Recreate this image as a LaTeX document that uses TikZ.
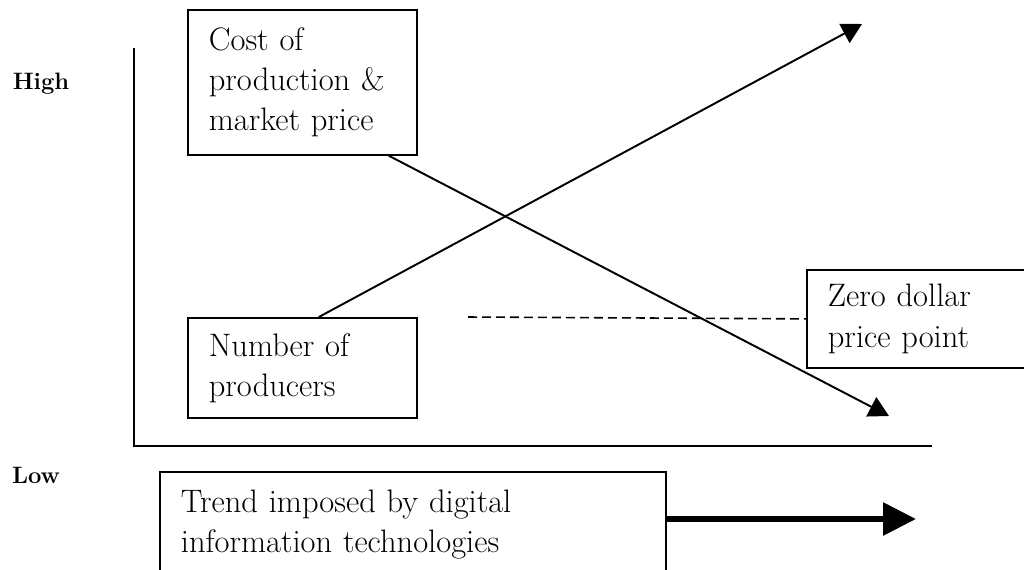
\documentclass[tikz,border=0pt]{standalone}
\usepackage{tikz}
\usetikzlibrary{arrows.meta,calc}
\tikzstyle{label box} = [draw, line width=1pt, rectangle, align=left, anchor=north west, inner xsep=0.42cm, inner ysep=0pt, font=\fontsize{18.5}{22.8}\selectfont]
\tikzstyle{axis label} = [font=\fontsize{13.5}{16}\selectfont\bfseries]
\tikzstyle{trend line} = [line width=1.1pt, -{Triangle[length=0.4cm, width=0.43cm]}]

\begin{document}
\begin{tikzpicture}[x=0.02cm, y=-0.02cm]
\useasboundingbox (0,0) rectangle (1024,569);
\draw[line width=1.2pt] (134,48) -- (134,446) -- (932,446);

	\node[axis label] (high) at (41,84) {High};
	\node[axis label] (low) at (36,475) {Low};

	\node[label box, text width=3.74cm, minimum height=2.9cm] (cost) at (187,9) {Cost of\\production \&\\market price};
	\node[label box, text width=3.74cm, minimum height=2cm] (producers) at (187,317) {Number of\\producers};
	\node[label box, text width=3.64cm, minimum height=1.96cm] (zero) at (806,269) {Zero dollar\\price point};
	\node[label box, text width=9.28cm, minimum height=2.1cm] (trend) at (159,471) {Trend imposed by digital\\information technologies};

	\coordinate (risetip) at (862,24);
	\coordinate (falltip) at (889,416);
	\coordinate (dashstart) at (468,317);
	\coordinate (trendtip) at (916,519);

    \draw[trend line] ([xshift=0.33cm]producers.north) -- (risetip);
    \draw[trend line] ([xshift=1.73cm]cost.south) -- (falltip);
    \draw[line width=0.9pt, dash pattern=on 0.18cm off 0.1cm] (dashstart) -- (zero.west);
    \draw[line width=3.4pt, -{Triangle[length=0.66cm, width=0.64cm]}] (trend.east |- trendtip) -- (trendtip);
\end{tikzpicture}
\end{document}
